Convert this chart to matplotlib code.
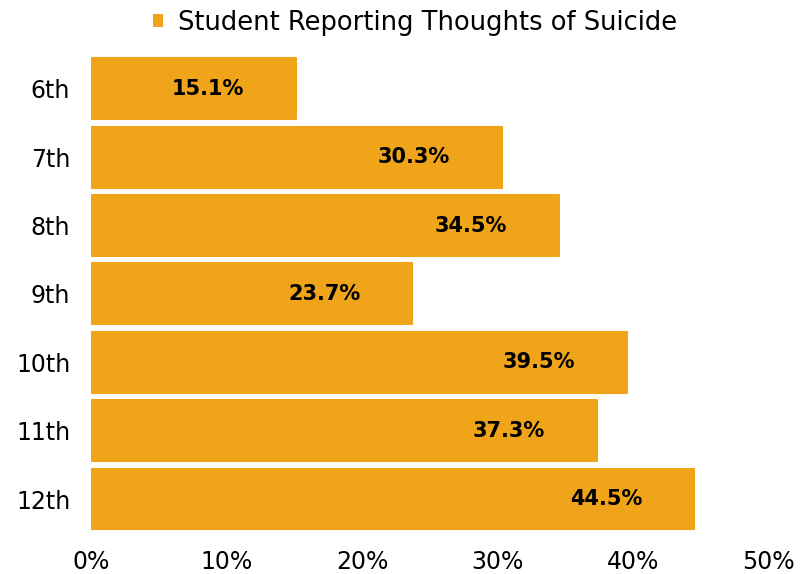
import matplotlib
matplotlib.use('Agg')
import matplotlib.pyplot as plt
from matplotlib.patches import Patch

grades = ['6th', '7th', '8th', '9th', '10th', '11th', '12th']
pct = [15.1, 30.3, 34.5, 23.7, 39.5, 37.3, 44.5]
xticks = [0, 10, 20, 30, 40, 50]
series_name = 'Student Reporting Thoughts of Suicide'

bar_color = '#EFA419'
plt.rcParams['font.family'] = ['DejaVu Sans']

fig = plt.figure(figsize=(8.06, 5.74), dpi=100)
ax = fig.add_axes([0.113, 0.071, 0.841, 0.834])

ypos = list(range(len(grades)))
ax.barh(ypos, pct, height=0.89, color=bar_color,
        edgecolor=bar_color, linewidth=1.5, joinstyle='round')

# value labels sit inside the bar, a bit in from the end
for y, v in zip(ypos, pct):
    ax.text(v - 6.5, y, f'{v}%', ha='center', va='center', fontsize=15,
            fontweight='bold', color='black')

ax.set_ylim(len(grades) - 0.5, -0.5)
ax.set_xlim(0, 50)
ax.set_yticks(ypos)
ax.set_yticklabels(grades)
ax.set_xticks(xticks)
ax.set_xticklabels([f'{t}%' for t in xticks])
ax.tick_params(axis='both', length=0, labelsize=17)
ax.tick_params(axis='y', pad=15)
ax.tick_params(axis='x', pad=12)
for s in ax.spines.values():
    s.set_visible(False)

handle = Patch(facecolor=bar_color, edgecolor='none')
fig.legend([handle], [series_name], loc='center', bbox_to_anchor=(0.515, 0.96),
           frameon=False, fontsize=18.5, handlelength=0.4, handleheight=0.4,
           handletextpad=0.6)

fig.savefig('out.png', dpi=100)
